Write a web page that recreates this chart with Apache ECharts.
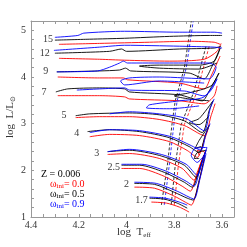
<!DOCTYPE html>
<html><head><meta charset="utf-8">
<script src="https://cdn.jsdelivr.net/npm/echarts@6/dist/echarts.min.js"></script>
<style>html,body{margin:0;padding:0;background:#fff}#c{width:247px;height:247px}</style>
</head><body><div id="c"></div>
<script>
// mass labels [logTeff, logL]
const massNames = ['15','12','9','7','5','4','3','2.5','2','1.7'];
const massLabelPos = [[4.329,4.81],[4.342,4.51],[4.338,4.11],[4.346,3.68],[4.262,3.17],[4.208,2.79],[4.125,2.36],[4.054,2.06],[4.0,1.70],[3.937,1.36]];

// tracks: r = omega 0.0 (red), k = 0.5 (black), b = 0.9 (blue)
const t15r = [[4.283,4.70],[4.113,4.72],[3.904,4.745],[3.738,4.766],[3.633,4.745],[3.608,4.70]];
const t15k = [[4.300,4.79],[4.154,4.81],[4.008,4.83],[3.821,4.87],[3.654,4.89],[3.600,4.89]];
const t15b = [[4.300,4.85],[4.204,4.89],[4.179,4.94],[4.008,4.98],[3.779,4.96],[3.633,4.96],[3.600,4.94]];

const t12r = [[4.283,4.40],[4.113,4.38],[4.008,4.36],[3.821,4.34],[3.675,4.38],[3.621,4.55],[3.604,4.72]];
const t12k = [[4.300,4.51],[4.071,4.55],[4.021,4.60],[4.000,4.55],[3.779,4.60],[3.633,4.62],[3.604,4.66]];
const t12b = [[4.304,4.57],[4.113,4.64],[4.008,4.68],[3.779,4.66],[3.633,4.64],[3.600,4.62]];

const t9r = [[4.288,4.0],[4.113,3.98],[4.013,3.98],[3.996,3.94],[3.779,3.87],[3.675,3.745],[3.646,4.02],[3.621,4.30],[3.608,4.45]];
const t9k = [[4.292,4.11],[4.113,4.13],[4.029,4.15],[4.004,4.19],[3.983,4.13],[3.738,4.085],[3.675,3.96],[3.642,4.23],[3.608,4.62],[3.633,4.34],[3.696,4.255],[3.863,4.255],[3.946,4.234],[3.863,4.19],[3.696,4.17],[3.621,4.30]];
const t9b = [[4.292,4.11],[4.121,4.13],[4.071,4.21],[4.029,4.30],[4.013,4.34],[3.996,4.30],[3.821,4.30],[3.654,4.30],[3.625,4.21],[3.654,3.96],[3.863,4.0],[3.988,3.98],[4.025,3.915],[4.008,3.83],[3.863,3.915],[3.675,3.87]];

const t7r = [[4.288,3.60],[4.113,3.60],[4.008,3.574],[3.988,3.53],[3.779,3.49],[3.675,3.426],[3.633,3.596],[3.621,3.81]];
const t7k = [[4.296,3.68],[4.246,3.745],[4.113,3.766],[4.008,3.745],[3.988,3.68],[3.779,3.617],[3.683,3.489],[3.654,3.70],[3.613,4.085],[3.646,3.81],[3.738,3.66],[3.80,3.596],[3.738,3.53],[3.654,3.49]];
const t7b = [[4.208,3.72],[4.113,3.745],[4.008,3.766],[3.988,3.72],[3.758,3.70],[3.675,3.596],[3.642,3.745],[3.621,3.96],[3.675,3.574],[3.779,3.489],[3.904,3.404],[3.917,3.34],[3.821,3.32],[3.696,3.38]];

const t5r = [[4.213,3.13],[4.113,3.15],[3.988,3.15],[3.863,3.09],[3.758,2.96],[3.675,2.745],[3.646,3.17],[3.629,3.43]];
const t5k = [[4.213,3.17],[4.154,3.21],[3.988,3.23],[3.863,3.19],[3.758,3.06],[3.683,2.81],[3.654,3.28],[3.638,3.49],[3.696,3.11],[3.738,3.02],[3.696,2.98],[3.654,3.17]];
const t5b = [[4.071,3.21],[3.988,3.255],[3.863,3.21],[3.75,3.11],[3.675,2.85],[3.65,3.32],[3.633,3.53]];

const t4r = [[4.154,2.72],[4.071,2.77],[3.946,2.745],[3.821,2.617],[3.746,2.426],[3.704,2.277],[3.675,2.638],[3.658,2.894]];
const t4k = [[4.163,2.83],[4.071,2.87],[3.946,2.83],[3.821,2.70],[3.738,2.51],[3.696,2.38],[3.671,2.745],[3.654,2.96],[3.696,2.64],[3.713,2.47],[3.688,2.51]];
const t4b = [[4.154,2.81],[4.071,2.87],[3.946,2.85],[3.813,2.72],[3.729,2.53],[3.688,2.43],[3.667,2.79],[3.65,3.0]];

const t3r = [[4.079,2.34],[3.988,2.36],[3.863,2.255],[3.767,2.04],[3.717,1.79],[3.688,2.17],[3.671,2.38],[3.704,2.43],[3.696,2.32]];
const t3k = [[4.079,2.40],[3.988,2.43],[3.863,2.32],[3.758,2.11],[3.708,1.85],[3.683,2.21],[3.667,2.43],[3.704,2.38],[3.717,2.255],[3.696,2.255]];
const t3b = [[4.079,2.40],[3.988,2.45],[3.854,2.34],[3.75,2.13],[3.704,1.894],[3.679,2.255],[3.663,2.49],[3.713,2.47],[3.729,2.32],[3.704,2.17],[3.675,2.32]];

const t25r = [[4.021,2.04],[3.946,2.04],[3.842,1.872],[3.767,1.66],[3.733,1.553],[3.704,1.957],[3.675,2.34]];
const t25k = [[4.021,2.11],[3.946,2.11],[3.842,1.957],[3.758,1.745],[3.725,1.638],[3.696,2.0],[3.671,2.38]];
const t25b = [[4.021,2.13],[3.937,2.13],[3.833,1.98],[3.75,1.766],[3.717,1.66],[3.692,2.04],[3.667,2.43]];

const t2r = [[3.967,1.64],[3.883,1.617],[3.80,1.447],[3.754,1.319],[3.729,1.255],[3.70,1.68],[3.675,2.255]];
const t2k = [[3.967,1.72],[3.883,1.70],[3.80,1.53],[3.746,1.404],[3.721,1.362],[3.696,1.787],[3.671,2.32]];
const t2b = [[3.967,1.745],[3.875,1.72],[3.788,1.553],[3.738,1.426],[3.717,1.383],[3.692,1.83],[3.667,2.36]];

const t17r = [[3.896,1.32],[3.833,1.298],[3.779,1.213],[3.738,1.106]];
const t17k = [[3.904,1.404],[3.842,1.383],[3.788,1.298],[3.746,1.19]];
const t17b = [[3.904,1.426],[3.838,1.404],[3.779,1.32],[3.746,1.255]];

// instability strip edges
const blueEdgeK = [[3.854,1.26],[3.829,2.11],[3.808,3.06],[3.796,3.49],[3.758,4.19],[3.729,5.19]];
const blueEdgeB = [[3.842,1.26],[3.821,2.11],[3.800,3.06],[3.788,3.49],[3.750,4.19],[3.721,5.19]];
const redEdgeK = [[3.813,1.26],[3.796,2.11],[3.771,2.98],[3.717,3.70],[3.667,4.66]];
const redEdgeR = [[3.800,1.26],[3.783,2.11],[3.758,2.98],[3.704,3.70],[3.654,4.66]];

const xTickLabels = [4.4, 4.2, 4.0, 3.8, 3.6];
const yTickLabels = [1, 2, 3, 4, 5];

const RED = '#ff0000', BLK = '#000000', BLU = '#0000ff';
const FONT = 'Liberation Serif';

function trackSeries(data, color, z) {
  return { type: 'line', data: data, showSymbol: false, symbol: 'none', silent: true, smooth: 0.25,
    lineStyle: { color: color, width: 0.9 }, z: z, animation: false };
}
function edgeSeries(data, color) {
  return { type: 'line', data: data, showSymbol: false, symbol: 'none', silent: true,
    lineStyle: { color: color, width: 0.8, type: [3, 2] }, z: 1, animation: false };
}

const tracks = [
  [t15r,t15k,t15b],[t12r,t12k,t12b],[t9r,t9k,t9b],[t7r,t7k,t7b],[t5r,t5k,t5b],
  [t4r,t4k,t4b],[t3r,t3k,t3b],[t25r,t25k,t25b],[t2r,t2k,t2b],[t17r,t17k,t17b]
];
const series = [];
series.push(edgeSeries(blueEdgeK, BLK), edgeSeries(blueEdgeB, BLU), edgeSeries(redEdgeK, BLK), edgeSeries(redEdgeR, RED));
tracks.forEach(g => {
  series.push(trackSeries(g[0], RED, 2));
  series.push(trackSeries(g[1], BLK, 3));
  series.push(trackSeries(g[2], BLU, 4));
});
series.push({
  type: 'scatter', symbolSize: 0, silent: true, animation: false, z: 10,
  data: massNames.map((n, i) => ({ name: n, value: massLabelPos[i] })),
  label: { show: true, position: 'inside', formatter: p => p.name, color: '#000',
    fontFamily: FONT, fontSize: 10 }
});

const isMajorX = v => Math.abs(v * 5 - Math.round(v * 5)) < 1e-6;
const isMajorY = v => Math.abs(v - Math.round(v)) < 1e-6;
const axisCol = '#999';

const chart = echarts.init(document.getElementById('c'), null, { renderer: 'canvas' });
chart.setOption({
  animation: false,
  backgroundColor: '#fff',
  grid: { left: 31, right: 13, top: 21, bottom: 30 },
  xAxis: [
    { type: 'value', inverse: true, min: 3.55, max: 4.4, interval: 0.05, position: 'bottom',
      axisLine: { show: true, lineStyle: { color: axisCol, width: 1 } },
      axisTick: { show: true, inside: true, length: 3, lineStyle: { color: axisCol } },
      splitLine: { show: false },
      axisLabel: { color: '#333', fontFamily: FONT, fontSize: 10, margin: 3,
        formatter: v => isMajorX(v) && xTickLabels.some(t => Math.abs(t - v) < 1e-6) ? String(+v.toFixed(1)) : '' } },
    { type: 'value', inverse: true, min: 3.55, max: 4.4, interval: 0.05, position: 'top',
      axisLine: { show: true, lineStyle: { color: axisCol, width: 1 } },
      axisTick: { show: true, inside: true, length: 3, lineStyle: { color: axisCol } },
      splitLine: { show: false }, axisLabel: { show: false } }
  ],
  yAxis: [
    { type: 'value', min: 1, max: 5.2, interval: 0.2, position: 'left',
      axisLine: { show: true, lineStyle: { color: axisCol, width: 1 } },
      axisTick: { show: true, inside: true, length: 3, lineStyle: { color: axisCol } },
      splitLine: { show: false },
      axisLabel: { color: '#333', fontFamily: FONT, fontSize: 10, margin: 5,
        formatter: v => isMajorY(v) && yTickLabels.includes(Math.round(v)) ? String(Math.round(v)) : '' } },
    { type: 'value', min: 1, max: 5.2, interval: 0.2, position: 'right',
      axisLine: { show: true, lineStyle: { color: axisCol, width: 1 } },
      axisTick: { show: true, inside: true, length: 3, lineStyle: { color: axisCol } },
      splitLine: { show: false }, axisLabel: { show: false } }
  ],
  series: series,
  graphic: [
    { type: 'text', left: 117, top: 227, silent: true,
      style: { text: 'log  T{s|eff}', fill: '#333', font: '11px ' + FONT,
        rich: { s: { fontSize: 7, fontFamily: FONT, fill: '#333', padding: [6, 0, 0, 0] } } } },
    { type: 'text', x: 4, y: 138, rotation: Math.PI / 2, silent: true,
      style: { text: 'log  L/L{s|\u2299}', fill: '#333', font: '11px ' + FONT,
        rich: { s: { fontSize: 7, fontFamily: FONT, fill: '#333', padding: [6, 0, 0, 0] } } } },
    { type: 'text', left: 41, top: 169, silent: true,
      style: { text: 'Z = 0.006', fill: '#000', font: '10px ' + FONT } },
    { type: 'text', left: 50, top: 179, silent: true,
      style: { text: '\u03c9{s|ini}= 0.0', fill: RED, font: '10px ' + FONT,
        rich: { s: { fontSize: 7, fontFamily: FONT, fill: RED, padding: [4, 0, 0, 0] } } } },
    { type: 'text', left: 50, top: 189, silent: true,
      style: { text: '\u03c9{s|ini}= 0.5', fill: '#000', font: '10px ' + FONT,
        rich: { s: { fontSize: 7, fontFamily: FONT, fill: '#000', padding: [4, 0, 0, 0] } } } },
    { type: 'text', left: 50, top: 199, silent: true,
      style: { text: '\u03c9{s|ini}= 0.9', fill: BLU, font: '10px ' + FONT,
        rich: { s: { fontSize: 7, fontFamily: FONT, fill: BLU, padding: [4, 0, 0, 0] } } } }
  ]
});
</script>
</body></html>
